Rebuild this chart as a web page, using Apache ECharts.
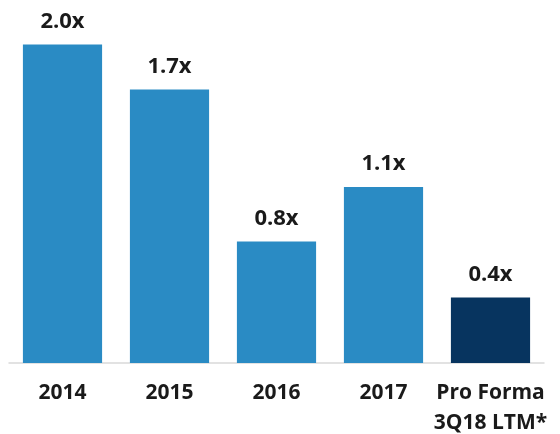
<!DOCTYPE html>
<html><head><meta charset="utf-8">
<script src="https://cdn.jsdelivr.net/npm/echarts@6/dist/echarts.min.js"></script>
<style>html,body{margin:0;padding:0;background:#fff}#c{width:560px;height:434px}</style>
</head><body><div id="c"></div>
<script>
const categories = ['2014', '2015', '2016', '2017', 'Pro Forma\n3Q18 LTM*'];
const values = [1.99, 1.71, 0.76, 1.10, 0.41];
const barColors = ['#2a8bc4', '#2a8bc4', '#2a8bc4', '#2a8bc4', '#07345f'];

const chart = echarts.init(document.getElementById('c'));
chart.setOption({
  animation: false,
  grid: { left: 9, right: 16, top: 19, bottom: 71, containLabel: false, outerBoundsMode: 'none' },
  xAxis: {
    type: 'category',
    data: categories,
    axisLine: { lineStyle: { color: '#d9d9d9', width: 1.5 } },
    axisTick: { show: false },
    axisLabel: {
      interval: 0, margin: 15, color: '#1a1a1a', fontWeight: 'bold',
      fontFamily: 'Open Sans', fontSize: 21, lineHeight: 30
    }
  },
  yAxis: { type: 'value', min: 0, max: 2.15, show: false, splitLine: { show: false } },
  series: [{
    type: 'bar',
    barCategoryGap: '26%',
    data: values.map((v, i) => ({ value: v, itemStyle: { color: barColors[i] } })),
    label: {
      show: true, position: 'top', distance: 12,
      formatter: p => p.value.toFixed(1) + 'x',
      color: '#1a1a1a', fontWeight: 'bold', fontFamily: 'Open Sans', fontSize: 22
    }
  }]
});
</script></body></html>
